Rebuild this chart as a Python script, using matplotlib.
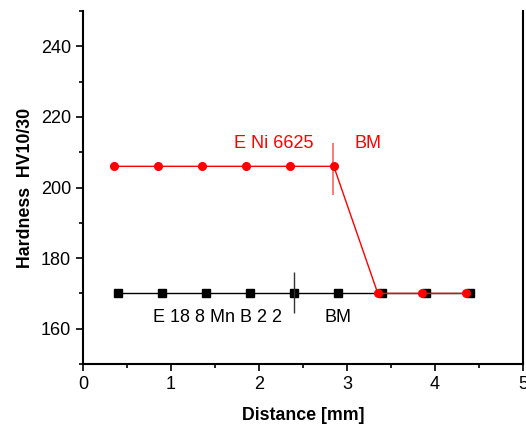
import matplotlib
matplotlib.use("Agg")
import matplotlib.pyplot as plt
from matplotlib.ticker import MultipleLocator

plt.rcParams['font.family'] = ['Liberation Sans', 'DejaVu Sans']

red_x = [0.35, 0.85, 1.35, 1.85, 2.35, 2.85, 3.35, 3.85, 4.35]
red_y = [206, 206, 206, 206, 206, 206, 170, 170, 170]
black_x = [0.4, 0.9, 1.4, 1.9, 2.4, 2.9, 3.4, 3.9, 4.4]
black_y = [170, 170, 170, 170, 170, 170, 170, 170, 170]

red_boundary_x = 2.84
red_boundary_y = (198, 212.5)
black_boundary_x = 2.4
black_boundary_y = (164.5, 176)

fig = plt.figure(figsize=(5.26, 4.24), dpi=100)
ax = fig.add_axes([83/526, 1 - 364/424, (523-83)/526, (364-11)/424])

ax.plot(black_x, black_y, color='black', lw=1, marker='s', ms=5.5, zorder=2)
ax.plot(red_x, red_y, color='red', lw=1, marker='o', ms=5.5, zorder=3)
ax.vlines(red_boundary_x, *red_boundary_y, color='#ff6060', lw=1.2)
ax.vlines(black_boundary_x, *black_boundary_y, color='#333333', lw=1)

ax.text(2.17, 212.5, 'E Ni 6625', color='red', fontsize=13, ha='center', va='center')
ax.text(3.24, 212.5, 'BM', color='red', fontsize=13, ha='center', va='center')
ax.text(1.53, 163.2, 'E 18 8 Mn B 2 2', color='black', fontsize=13, ha='center', va='center')
ax.text(2.9, 163.2, 'BM', color='black', fontsize=13, ha='center', va='center')

ax.set_xlim(0, 5)
ax.set_ylim(150, 250)
ax.xaxis.set_major_locator(MultipleLocator(1))
ax.xaxis.set_minor_locator(MultipleLocator(0.5))
ax.yaxis.set_major_locator(MultipleLocator(20))
ax.yaxis.set_minor_locator(MultipleLocator(10))
ax.set_yticks([160, 180, 200, 220, 240])
ax.tick_params(which='both', direction='out', width=1.2, labelsize=13)
ax.tick_params(which='major', length=5)
ax.tick_params(which='minor', length=3)
ax.spines['top'].set_visible(False)
for s in ['left', 'bottom', 'right']:
    ax.spines[s].set_linewidth(1.5)

ax.set_xlabel('Distance [mm]', fontsize=12.8, fontweight='bold', labelpad=10)
ax.set_ylabel('Hardness  HV10/30', fontsize=12.8, fontweight='bold', labelpad=5)

fig.savefig('out.png', dpi=100)
